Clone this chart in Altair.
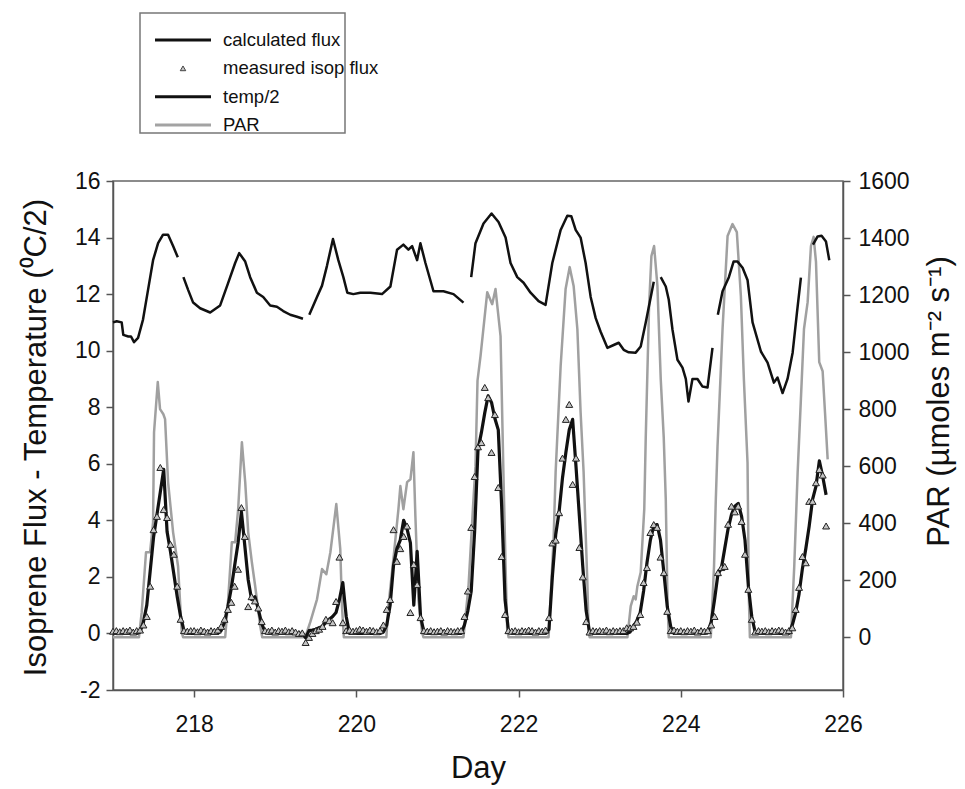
import altair as alt
import pandas as pd

# ---------------- data ----------------
days = [217, 218, 219, 220, 221, 222, 223, 224, 225]

# measured isoprene flux, hourly values (h0..h23) for each day
meas_217 = [0.08, 0.1, 0.06, 0.1, 0.08, 0.12, 0.05, 0.1, 0.12, 0.3, 0.6, 1.67, 3.67, 4.14, 5.87, 4.38, 4.1, 3.15, 2.8, 1.67, 0.5, 0.1, 0.08, 0.1]
meas_218 = [0.1, 0.06, 0.12, 0.08, 0.05, 0.1, 0.08, 0.12, 0.25, 0.5, 0.85, 1.1, 1.67, 2.27, 4.45, 3.43, 0.95, 1.3, 1.15, 0.9, 0.42, 0.1, 0.08, 0.12]
meas_219 = [0.05, 0.1, 0.08, 0.12, 0.06, 0.1, 0.05, 0.0, 0.02, -0.32, -0.14, 0.0, 0.1, 0.15, 0.25, 0.5, 0.45, 0.38, 1.13, 2.7, 0.38, 0.1, 0.12, 0.08]
meas_220 = [0.1, 0.15, 0.12, 0.08, 0.12, 0.1, 0.06, 0.1, 0.3, 0.85, 1.2, 3.67, 2.55, 3.0, 3.43, 3.8, 0.74, 2.44, 1.73, 0.56, 0.1, 0.08, 0.1, 0.06]
meas_221 = [0.08, 0.1, 0.05, 0.1, 0.08, 0.06, 0.1, 0.1, 0.6, 1.5, 3.75, 5.55, 6.6, 6.75, 8.7, 8.34, 6.4, 7.74, 5.16, 2.72, 0.67, 0.1, 0.08, 0.1]
meas_222 = [0.06, 0.1, 0.08, 0.12, 0.1, 0.05, 0.1, 0.08, 0.12, 0.56, 3.2, 3.3, 4.27, 6.2, 7.57, 8.1, 5.27, 6.2, 3.04, 2.0, 0.42, 0.05, 0.1, 0.08]
meas_223 = [0.1, 0.08, 0.12, 0.06, 0.1, 0.08, 0.1, 0.1, 0.2, 0.2, 0.25, 0.4, 0.67, 1.8, 2.33, 3.57, 3.85, 3.75, 2.7, 2.15, 0.78, 0.1, 0.12, 0.08]
meas_224 = [0.1, 0.06, 0.1, 0.08, 0.12, 0.05, 0.1, 0.08, 0.1, 0.3, 0.6, 2.15, 2.33, 2.37, 3.86, 4.5, 4.3, 4.5, 3.96, 2.8, 1.56, 0.5, 0.05, 0.1]
meas_225 = [0.08, 0.1, 0.06, 0.1, 0.08, 0.12, 0.1, 0.05, 0.1, 0.2, 0.85, 1.63, 2.72, 2.5, 4.67, 4.67, 5.33, 5.8, 5.6, 3.8, None, None, None, None]

# calculated flux, hourly values (h0..h23) for each day
calc_217 = [0, 0, 0, 0, 0, 0, 0, 0, 0.05, 0.4, 1.0, 2.2, 3.4, 4.2, 5.0, 5.8, 3.6, 2.9, 2.1, 1.3, 0.6, 0.1, 0, 0]
calc_218 = [0, 0, 0, 0, 0, 0, 0, 0, 0.1, 0.4, 0.95, 1.6, 2.4, 3.2, 4.3, 3.1, 1.9, 1.2, 1.3, 0.85, 0.35, 0.05, 0, 0]
calc_219 = [0, 0, 0, 0, 0, 0, 0, 0, 0, -0.15, 0.1, 0.12, 0.15, 0.2, 0.25, 0.4, 0.5, 0.6, 0.74, 1.2, 1.8, 0.6, 0, 0]
calc_220 = [0, 0, 0, 0, 0, 0, 0, 0, 0.05, 0.3, 1.0, 2.4, 3.0, 3.3, 4.0, 3.7, 3.2, 1.0, 2.9, 0.6, 0.05, 0, 0, 0]
calc_221 = [0, 0, 0, 0, 0, 0, 0, 0, 0.3, 0.8, 1.5, 3.6, 6.5, 7.1, 7.8, 8.4, 8.17, 7.6, 7.2, 4.5, 1.2, 0.1, 0, 0]
calc_222 = [0, 0, 0, 0, 0, 0, 0, 0, 0, 0.14, 2.0, 3.5, 4.3, 5.5, 6.4, 7.2, 7.57, 5.9, 4.14, 2.37, 0.8, 0.05, 0, 0]
calc_223 = [0, 0, 0, 0, 0, 0, 0, 0, 0, 0.05, 0.25, 0.45, 0.74, 1.5, 2.5, 3.3, 3.8, 3.85, 3.3, 2.15, 0.95, 0.25, 0, 0]
calc_224 = [0, 0, 0, 0, 0, 0, 0, 0, 0.05, 0.4, 1.2, 2.1, 2.3, 3.0, 3.7, 4.2, 4.5, 4.6, 4.14, 3.3, 1.67, 0.6, 0.05, 0]
calc_225 = [0, 0, 0, 0, 0, 0, 0, 0, 0, 0.3, 0.74, 1.4, 2.3, 3.0, 3.8, 4.74, 5.2, 6.1, 5.55, 4.9, None, None, None, None]

# temperature / 2 (segments separated by data gaps)
temp_day = [217.0, 217.046, 217.107, 217.127, 217.189, 217.222, 217.259, 217.309, 217.37, 217.432, 217.494, 217.556, 217.617, 217.679, 217.741, 217.799,
            217.868, 217.926, 217.988, 218.074, 218.198, 218.321, 218.42, 218.506, 218.556, 218.63, 218.691, 218.774, 218.852, 218.938, 219.021, 219.099, 219.185, 219.268, 219.342,
            219.42, 219.515, 219.577, 219.638, 219.712, 219.778, 219.84, 219.889, 219.963, 220.049, 220.173, 220.317, 220.42, 220.502, 220.58, 220.642, 220.688, 220.749, 220.79, 220.852, 220.951, 221.074, 221.198, 221.321,
            221.416, 221.469, 221.568, 221.667, 221.753, 221.84, 221.901, 221.984, 222.062, 222.148, 222.247, 222.333, 222.416, 222.519, 222.601, 222.651, 222.704, 222.765, 222.827, 222.889, 222.951, 223.012, 223.095, 223.173, 223.235, 223.296, 223.358, 223.444, 223.506, 223.568, 223.63, 223.667,
            223.753, 223.815, 223.852, 223.898, 223.959, 224.021, 224.062, 224.095, 224.144, 224.206, 224.268, 224.33, 224.391,
            224.457, 224.515, 224.593, 224.651, 224.7, 224.762, 224.823, 224.885, 224.988, 225.07, 225.148, 225.193, 225.255, 225.316, 225.379, 225.432, 225.481,
            225.63, 225.687, 225.736, 225.79, 225.831]
temp_val = [11.0, 11.04, 11.0, 10.56, 10.5, 10.5, 10.3, 10.45, 11.1, 12.15, 13.2, 13.8, 14.1, 14.1, 13.7, 13.3,
            12.6, 12.15, 11.7, 11.5, 11.35, 11.6, 12.4, 13.1, 13.45, 13.15, 12.6, 12.05, 11.9, 11.6, 11.55, 11.4, 11.27, 11.2, 11.13,
            11.27, 11.9, 12.3, 13.0, 13.95, 13.2, 12.6, 12.05, 12.0, 12.05, 12.05, 12.0, 12.27, 13.57, 13.75, 13.57, 13.7, 13.2, 13.8, 13.1, 12.1, 12.1, 12.0, 11.7,
            12.6, 13.8, 14.5, 14.85, 14.55, 14.0, 13.1, 12.6, 12.4, 12.05, 11.75, 11.62, 13.1, 14.27, 14.77, 14.75, 14.27, 14.0, 13.1, 11.9, 11.15, 10.67, 10.1, 10.2, 10.28, 10.03, 9.94, 9.93, 10.15, 11.0, 11.9, 12.44,
            12.6, 12.27, 11.8, 10.74, 9.68, 9.4, 9.0, 8.2, 9.0, 9.0, 8.73, 8.7, 10.1,
            11.27, 12.1, 12.6, 13.15, 13.15, 12.93, 12.5, 11.0, 9.97, 9.58, 8.87, 9.05, 8.5, 9.0, 9.93, 11.34, 12.58,
            13.75, 14.04, 14.06, 13.86, 13.2]
temp_seg = [1] * 16 + [2] * 19 + [3] * 24 + [4] * 32 + [5] * 13 + [6] * 17 + [7] * 5

# PAR (right axis)
par_day = [217.0, 217.32, 217.354, 217.407, 217.457, 217.494, 217.506, 217.552, 217.58, 217.621, 217.642, 217.679, 217.741, 217.802, 217.848, 217.864,
           218.383, 218.42, 218.465, 218.506, 218.543, 218.589, 218.63, 218.667, 218.712, 218.753, 218.774, 218.815, 218.84,
           219.37, 219.432, 219.515, 219.577, 219.63, 219.68, 219.753, 219.802, 219.823, 219.846,
           220.37, 220.395, 220.457, 220.519, 220.543, 220.58, 220.626, 220.667, 220.704, 220.728, 220.765, 220.811, 220.827,
           221.321, 221.383, 221.444, 221.469, 221.494, 221.531, 221.614, 221.675, 221.716, 221.778, 221.815, 221.84, 221.86, 221.877,
           222.37, 222.432, 222.457, 222.519, 222.58, 222.63, 222.679, 222.725, 222.765, 222.802, 222.848, 222.864, 222.877,
           223.342, 223.383, 223.42, 223.444, 223.465, 223.506, 223.55, 223.568, 223.609, 223.638, 223.671, 223.712, 223.753, 223.79, 223.815, 223.836, 223.852,
           224.37, 224.41, 224.432, 224.453, 224.515, 224.577, 224.638, 224.691, 224.741, 224.778, 224.823, 224.84, 224.852,
           225.358, 225.399, 225.441, 225.481, 225.519, 225.564, 225.605, 225.638, 225.667, 225.707, 225.749, 225.778, 225.811]
par_val = [0, 0, 88, 298, 298, 403, 719, 895, 800, 782, 765, 544, 368, 249, 17, 0,
           0, 133, 333, 333, 449, 684, 544, 368, 263, 179, 133, 39, 0,
           0, 53, 133, 239, 221, 298, 467, 309, 109, 0,
           0, 109, 274, 449, 530, 449, 544, 554, 649, 425, 133, 17, 0,
           0, 179, 484, 600, 900, 986, 1210, 1168, 1221, 1056, 554, 249, 28, 0,
           0, 344, 579, 951, 1221, 1298, 1232, 1081, 789, 579, 193, 17, 0,
           0, 109, 144, 133, 179, 228, 450, 700, 1161, 1337, 1372, 1232, 905, 700, 484, 133, 0,
           0, 249, 484, 670, 1081, 1407, 1449, 1421, 1196, 905, 612, 133, 0,
           0, 249, 579, 835, 1081, 1175, 1372, 1404, 1316, 965, 933, 789, 624]

x_ticks = [218, 220, 222, 224, 226]
left_ticks = [-2, 0, 2, 4, 6, 8, 10, 12, 14, 16]
right_ticks = [0, 200, 400, 600, 800, 1000, 1200, 1400, 1600]

legend_labels = ["calculated flux", "measured isop flux", "temp/2", "PAR"]
legend_kind = ["line", "point", "line", "line"]
legend_color = ["#111111", "#333333", "#111111", "#a3a3a3"]

# ---------------- tables ----------------
meas_all = [meas_217, meas_218, meas_219, meas_220, meas_221, meas_222, meas_223, meas_224, meas_225]
calc_all = [calc_217, calc_218, calc_219, calc_220, calc_221, calc_222, calc_223, calc_224, calc_225]

meas_rows, calc_rows = [], []
for d, mv, cv in zip(days, meas_all, calc_all):
    for h in range(24):
        if mv[h] is not None:
            meas_rows.append({"day": d + h / 24.0, "flux": mv[h]})
        if cv[h] is not None:
            calc_rows.append({"day": d + h / 24.0, "flux": cv[h]})
meas_df = pd.DataFrame(meas_rows)
calc_df = pd.DataFrame(calc_rows)
temp_df = pd.DataFrame({"day": temp_day, "temp": temp_val, "seg": temp_seg})
par_df = pd.DataFrame({"day": par_day, "par": par_val})
legend_df = pd.DataFrame({"label": legend_labels, "kind": legend_kind, "color": legend_color})

FONT = "Liberation Sans"

x_enc = alt.X("day:Q",
              scale=alt.Scale(domain=[217, 226], nice=False, zero=False),
              axis=alt.Axis(values=x_ticks, title="Day", labelFlush=False, labelPadding=16,
                            titleY=78, titleBaseline="middle", format="d"))

yl_scale = alt.Scale(domain=[-2, 16], nice=False, zero=False)
yl_axis = alt.Axis(orient="left", values=left_ticks, title="Isoprene Flux - Temperature (\u2070C/2)",
                   labelExpr="'' + datum.value",
                   labelPadding=6, titleAngle=270, titleX=-77, titleY=256,
                   titleBaseline="middle", titleAlign="center")

par_line = alt.Chart(par_df).mark_line(color="#a0a0a0", strokeWidth=2.5, strokeJoin="round").encode(
    x=x_enc,
    y=alt.Y("par:Q", scale=alt.Scale(domain=[-185, 1600], nice=False, zero=False),
            axis=alt.Axis(orient="right", values=right_ticks, format="d",
                          title="PAR (\u00b5moles m\u207b\u00b2 s\u207b\u00b9)",
                          labelPadding=8, titleAngle=270, titleX=96, titleY=220,
                          titleBaseline="middle", titleAlign="center")),
)

calc_line = alt.Chart(calc_df).mark_line(color="#111111", strokeWidth=3.2, strokeJoin="round").encode(
    x=x_enc, y=alt.Y("flux:Q", scale=yl_scale, axis=yl_axis))

temp_line = alt.Chart(temp_df).mark_line(color="#111111", strokeWidth=2.5, strokeJoin="round").encode(
    x=x_enc, y=alt.Y("temp:Q", scale=yl_scale, axis=yl_axis), detail="seg:N")

meas_pts = alt.Chart(meas_df).mark_point(shape="triangle-up", filled=True, fill="#c4c4c4", stroke="#222222",
                                         strokeWidth=1, size=48, opacity=1).encode(
    x=x_enc, y=alt.Y("flux:Q", scale=yl_scale, axis=yl_axis))

left_layer = alt.layer(calc_line, temp_line, meas_pts)

# legend (drawn above the plot area)
ly = alt.Y("label:N", scale=alt.Scale(type="point", domain=legend_labels, range=[-141, -56], padding=0), axis=None)

legend_box = alt.Chart(legend_df).mark_rect(fill="white", fillOpacity=0, stroke="#777777", strokeWidth=1.5).encode(
    x=alt.value(27), x2=alt.value(232), y=alt.value(-168), y2=alt.value(-48)
).transform_filter(alt.datum.label == "PAR")

legend_lines = alt.Chart(legend_df).mark_rule(strokeWidth=3).encode(
    x=alt.value(42), x2=alt.value(98), y=ly, color=alt.Color("color:N", scale=None)
).transform_filter(alt.datum.kind == "line")

legend_tri = alt.Chart(legend_df).mark_point(shape="triangle-up", filled=True, fill="#c4c4c4", stroke="#333333",
                                             strokeWidth=0.9, size=30, opacity=1).encode(
    x=alt.value(70), y=ly
).transform_filter(alt.datum.kind == "point")

legend_text = alt.Chart(legend_df).mark_text(align="left", baseline="middle", fontSize=18.5, font=FONT, color="#111111").encode(
    x=alt.value(110), y=ly, text="label:N")

legend_layer = alt.layer(legend_box, legend_lines, legend_tri, legend_text)

chart = alt.layer(par_line, left_layer, legend_layer).resolve_scale(y="independent").properties(
    width=730, height=509,
    autosize=alt.AutoSizeParams(type="none"),
    padding={"left": 113, "top": 181, "right": 122, "bottom": 99},
    background="white",
).configure_view(stroke="#666666", strokeWidth=1.5).configure_axis(
    grid=False, domainColor="#555555", domainWidth=1.5, tickColor="#555555", tickWidth=1.5, tickSize=7,
    labelColor="#111111", titleColor="#111111", labelFont=FONT, titleFont=FONT,
    labelFontSize=23, titleFontSize=31, titleFontWeight="normal",
)

chart.save("out.html", embed_options={"renderer": "svg", "actions": False})
